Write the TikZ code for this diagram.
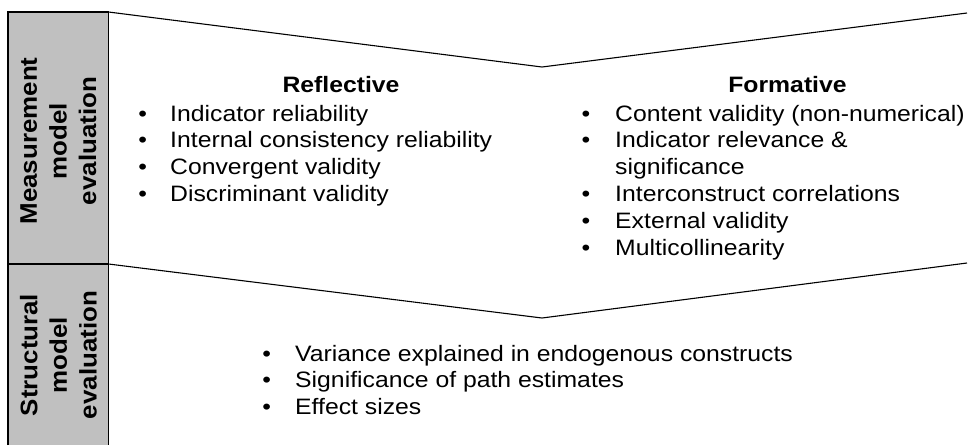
\documentclass[tikz,border=0pt]{standalone}
\usepackage{fontspec}
\setmainfont{Liberation Sans}
\definecolor{panelgray}{RGB}{192,192,192}
\tikzset{it/.style = {anchor=base west, inner sep=0pt, xscale=1.11, font=\fontsize{22.3}{26.8}\selectfont},
         bu/.style = {anchor=base, inner sep=0pt, xscale=1.11, font=\fontsize{22.3}{26.8}\selectfont},
         hd/.style = {anchor=base, inner sep=0pt, xscale=1.11, font=\fontsize{22.3}{26.8}\selectfont\bfseries},
         sd/.style = {rotate=90, xscale=1.08, align=center, inner sep=0pt, font=\fontsize{24}{29.7}\selectfont\bfseries},
         ln/.style = {line width=1.1pt}}

\begin{document}
\begin{tikzpicture}[x=1pt, y=-1pt]
    \useasboundingbox (0,0) rectangle (968,445);
    % side panels
    \fill[panelgray] (8,12) rectangle (108.5,445);
    \draw[ln] (8,445) -- (8,12) -- (108.5,12) -- (108.5,445);
    \draw[ln] (8,264) -- (108.5,264);
    \node[sd] (meas) at (58.4,141) {Measurement\\model\\evaluation};
    \node[sd] (strc) at (58.4,355) {Structural\\model\\evaluation};
    % chevrons
    \coordinate (t1) at (108.5,12);
    \coordinate (t2) at (542,67);
    \coordinate (t3) at (967,13);
    \coordinate (m1) at (108.5,264);
    \coordinate (m2) at (542,318);
    \coordinate (m3) at (967,263);
    \draw[ln] (t1) -- (t2) -- (t3);
    \draw[ln] (m1) -- (m2) -- (m3);
    % reflective
    \node[hd] (refl) at (341,92) {Reflective};
    \node[bu] (rb1) at (142.7,121) {•};
    \node[it] (r1) at (170,121) {Indicator reliability};
    \node[bu] (rb2) at (142.7,147.8) {•};
    \node[it] (r2) at (170,147.8) {Internal consistency reliability};
    \node[bu] (rb3) at (142.7,174.6) {•};
    \node[it] (r3) at (170,174.6) {Convergent validity};
    \node[bu] (rb4) at (142.7,201.4) {•};
    \node[it] (r4) at (170,201.4) {Discriminant validity};
    % formative
    \node[hd] (form) at (787.5,92) {Formative};
    \node[bu] (fb1) at (586,121) {•};
    \node[it] (f1) at (615,121) {Content validity (non-numerical)};
    \node[bu] (fb2) at (586,147.9) {•};
    \node[it] (f2) at (615,147.9) {Indicator relevance \&};
    \node[it] (f2b) at (615,174.8) {significance};
    \node[bu] (fb3) at (586,201.7) {•};
    \node[it] (f3) at (615,201.7) {Interconstruct correlations};
    \node[bu] (fb4) at (586,228.6) {•};
    \node[it] (f4) at (615,228.6) {External validity};
    \node[bu] (fb5) at (586,255.5) {•};
    \node[it] (f5) at (615,255.5) {Multicollinearity};
    % structural
    \node[bu] (sb1) at (266.7,361) {•};
    \node[it] (s1) at (295,361) {Variance explained in endogenous constructs};
    \node[bu] (sb2) at (266.7,387.5) {•};
    \node[it] (s2) at (295,387.5) {Significance of path estimates};
    \node[bu] (sb3) at (266.7,414) {•};
    \node[it] (s3) at (295,414) {Effect sizes};
\end{tikzpicture}
\end{document}
